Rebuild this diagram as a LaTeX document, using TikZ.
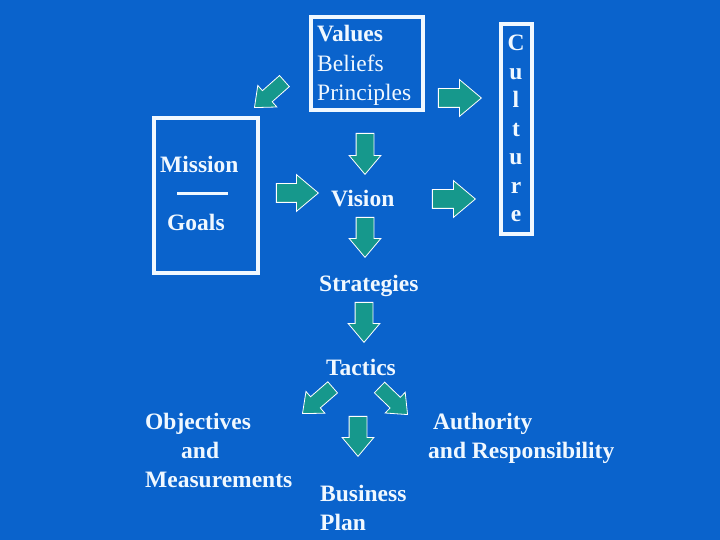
\documentclass[tikz,border=0pt]{standalone}
\usepackage{fontspec}
\setmainfont{Liberation Serif}
\usetikzlibrary{shapes.arrows}
\definecolor{bgblue}{RGB}{10,99,204}
\definecolor{arrteal}{RGB}{22,152,140}
\definecolor{txt}{RGB}{240,248,255}
\begin{document}
\begin{tikzpicture}[x=1pt,y=-1pt,
  lbl/.style={anchor=base west, inner sep=0pt, text=txt, font=\fontsize{23.5}{28}\selectfont\bfseries},
  lbln/.style={anchor=base west, inner sep=0pt, text=txt, font=\fontsize{23.5}{28}\selectfont},
  lblc/.style={anchor=base, inner sep=0pt, text=txt, font=\fontsize{23.5}{28}\selectfont\bfseries},
  frame/.style={draw=txt, line width=4pt},
  blk/.style={single arrow, draw=white, line width=0.8pt, fill=arrteal, inner xsep=0pt,
    single arrow tip angle=80, minimum height=#1, minimum width=0pt, anchor=tip},
  wide/.style={inner ysep=9pt, single arrow head extend=9pt},
  mid/.style={inner ysep=8.5pt, single arrow head extend=7pt},
  slim/.style={inner ysep=7pt, single arrow head extend=7pt},
]
\fill[bgblue] (0,0) rectangle (720,540);
\useasboundingbox (0,0) rectangle (720,540);

% frames
\draw[frame] (311,17) rectangle (423,110);
\draw[frame] (154,118) rectangle (258,273);
\draw[frame] (501,24) rectangle (532,234);
\draw[draw=txt, line width=3pt] (177,194) -- (228,194);

% texts
\node[lbl]  (values)  at (317,42)  {Values};
\node[lbln] (beliefs) at (317,72)  {Beliefs};
\node[lbln] (princ)   at (317,101) {Principles};
\node[lbl]  (mission) at (160,173) {Mission};
\node[lbl]  (goals)   at (167,230) {Goals};
\node[lbl]  (vision)  at (331,207) {Vision};
\node[lbl]  (strat)   at (319,291) {Strategies};
\node[lbl]  (tact)    at (326,375) {Tactics};
\node[lbl]  (obj1)    at (145,429) {Objectives};
\node[lbl]  (obj2)    at (181,458) {and};
\node[lbl]  (obj3)    at (145,487) {Measurements};
\node[lbl]  (auth1)   at (433,429) {Authority};
\node[lbl]  (auth2)   at (428,458) {and Responsibility};
\node[lbl]  (bus1)    at (320,501) {Business};
\node[lbl]  (bus2)    at (320,530) {Plan};
\node[lblc] (c1) at (516,51)    {C};
\node[lblc] (c2) at (516,79.5)  {u};
\node[lblc] (c3) at (516,108)   {l};
\node[lblc] (c4) at (516,136.5) {t};
\node[lblc] (c5) at (516,165)   {u};
\node[lblc] (c6) at (516,193.5) {r};
\node[lblc] (c7) at (516,222)   {e};

% block arrows (placed by their tips)
\node[blk=40pt, slim, rotate=221.5] (a1)  at (254,108) {};
\node[blk=42pt, wide]               (a2)  at (319,193) {};
\node[blk=43pt, wide]               (a3)  at (482,98) {};
\node[blk=43pt, wide]               (a4)  at (476,199) {};
\node[blk=41pt, mid, rotate=-90]    (a5)  at (365,175) {};
\node[blk=40pt, mid, rotate=-90]    (a6)  at (365,258) {};
\node[blk=40pt, mid, rotate=-90]    (a7)  at (364,343) {};
\node[blk=40pt, mid, rotate=-90]    (a8)  at (358,457) {};
\node[blk=40pt, slim, rotate=221]   (a9)  at (302,414) {};
\node[blk=39pt, slim, rotate=-44]   (a10) at (408,415) {};
\end{tikzpicture}
\end{document}
